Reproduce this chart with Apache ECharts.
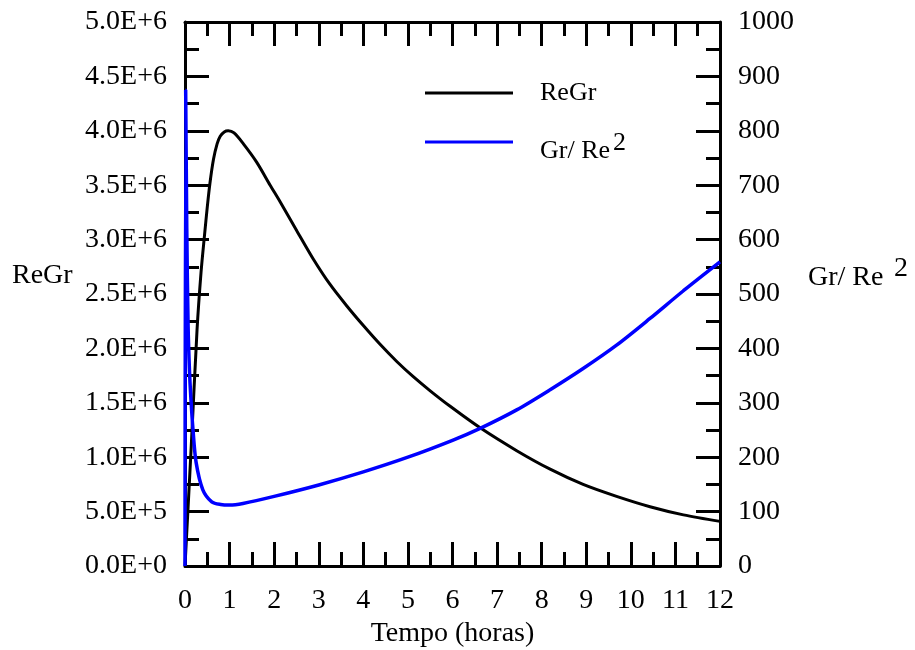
<!DOCTYPE html>
<html>
<head>
<meta charset="utf-8">
<script src="https://cdn.jsdelivr.net/npm/echarts@6/dist/echarts.min.js"></script>
<style>
html,body{margin:0;padding:0;background:#fff;}
#chart{width:915px;height:650px;}
</style>
</head>
<body>
<div id="chart"></div>
<script>
// Data
const reGrTime = [0, 0.14, 0.27, 0.36, 0.44, 0.5, 0.56, 0.64, 0.72, 0.79, 0.88, 0.97, 1.1, 1.31, 1.61, 1.91, 2.13, 2.51, 2.88, 3.25, 3.63, 4.0, 4.37, 4.75, 5.12, 5.5, 5.94, 6.62, 7.44, 8.19, 8.93, 9.68, 10.43, 11.18, 12];
const reGrValues = [0, 1.1e6, 2.17e6, 2.7e6, 3.05e6, 3.3e6, 3.52e6, 3.74e6, 3.88e6, 3.95e6, 3.99e6, 4.0e6, 3.98e6, 3.88e6, 3.71e6, 3.5e6, 3.35e6, 3.08e6, 2.82e6, 2.59e6, 2.39e6, 2.21e6, 2.04e6, 1.88e6, 1.74e6, 1.61e6, 1.47e6, 1.27e6, 1.06e6, 0.89e6, 0.75e6, 0.64e6, 0.545e6, 0.47e6, 0.41e6];
const grReTime = [0, 0.015, 0.04, 0.07, 0.1, 0.13, 0.18, 0.25, 0.4, 0.6, 0.8, 1.0, 1.3, 2, 3, 4, 5, 6, 6.62, 7.44, 8.19, 8.93, 9.68, 10.43, 11.18, 12];
const grReValues = [0, 875, 620, 440, 360, 311, 250, 190, 140, 118, 113, 112, 115, 128, 149, 173, 200, 231, 253, 287, 324, 363, 406, 455, 506, 559];
const xTickLabels = ['0','1','2','3','4','5','6','7','8','9','10','11','12'];
const leftTickLabels = ['0.0E+0','5.0E+5','1.0E+6','1.5E+6','2.0E+6','2.5E+6','3.0E+6','3.5E+6','4.0E+6','4.5E+6','5.0E+6'];
const rightTickLabels = ['0','100','200','300','400','500','600','700','800','900','1000'];
const seriesNames = ['ReGr', 'Gr/ Re2'];

const FONT = '"Liberation Serif", "Times New Roman", serif';
const pair = (xs, ys) => xs.map((x, i) => [x, ys[i]]);

const axisLine = {show: true, onZero: false, lineStyle: {color: '#000', width: 3}};
const axisTick = {show: true, inside: true, length: 24, lineStyle: {color: '#000', width: 3}};
const minorTick = {show: true, splitNumber: 2, length: 14, lineStyle: {color: '#000', width: 3}};
const labelStyle = {color: '#000', fontFamily: FONT, fontSize: 28};

const chart = echarts.init(document.getElementById('chart'), null, {renderer: 'canvas'});
chart.setOption({
  backgroundColor: '#fff',
  animation: false,
  grid: {left: 185, right: 195, top: 22, bottom: 84, containLabel: false, outerBoundsMode: 'none'},
  legend: {
    orient: 'vertical', left: 425, top: 80, itemGap: 14,
    icon: 'rect', itemWidth: 88, itemHeight: 3, padding: 0,
    data: seriesNames,
    textStyle: {
      color: '#000', fontFamily: FONT, fontSize: 26, padding: [0, 0, 0, 22],
      rich: {
        n: {fontFamily: FONT, fontSize: 26, color: '#000', lineHeight: 26, padding: [18, 0, 0, 0]},
        s: {fontFamily: FONT, fontSize: 26, color: '#000', lineHeight: 26, padding: [3, 0, 0, 3]}
      }
    },
    formatter: function (name) {
      if (name === seriesNames[1]) return '{n|Gr/ Re}{s|2}';
      return name;
    }
  },
  xAxis: [
    {type: 'value', position: 'bottom', min: 0, max: 12, interval: 1,
     axisLine: axisLine, axisTick: axisTick, minorTick: minorTick, splitLine: {show: false},
     axisLabel: Object.assign({margin: 21, formatter: v => xTickLabels[Math.round(v)]}, labelStyle),
     name: 'Tempo (horas)', nameLocation: 'middle', nameGap: 52,
     nameTextStyle: {color: '#000', fontFamily: FONT, fontSize: 28}},
    {type: 'value', position: 'top', min: 0, max: 12, interval: 1,
     axisLine: axisLine, axisTick: axisTick, minorTick: minorTick, splitLine: {show: false},
     axisLabel: {show: false}}
  ],
  yAxis: [
    {type: 'value', position: 'left', min: 0, max: 5e6, interval: 5e5,
     axisLine: axisLine, axisTick: axisTick, minorTick: minorTick, splitLine: {show: false},
     axisLabel: Object.assign({margin: 18, formatter: v => leftTickLabels[Math.round(v / 5e5)]}, labelStyle)},
    {type: 'value', position: 'right', min: 0, max: 1000, interval: 100,
     axisLine: axisLine, axisTick: axisTick, minorTick: minorTick, splitLine: {show: false},
     axisLabel: Object.assign({margin: 18, formatter: v => rightTickLabels[Math.round(v / 100)]}, labelStyle)}
  ],
  graphic: [
    {type: 'text', left: 12, top: 262, style: {text: 'ReGr', fill: '#000', font: '28px ' + FONT}},
    {type: 'text', left: 808, top: 264, style: {text: 'Gr/ Re', fill: '#000', font: '28px ' + FONT}},
    {type: 'text', left: 894, top: 255, style: {text: '2', fill: '#000', font: '28px ' + FONT}}
  ],
  series: [
    {name: seriesNames[0], type: 'line', xAxisIndex: 0, yAxisIndex: 0, data: pair(reGrTime, reGrValues),
     showSymbol: false, smooth: 0.3, lineStyle: {color: '#000', width: 3}, itemStyle: {color: '#000'}, z: 3},
    {name: seriesNames[1], type: 'line', xAxisIndex: 0, yAxisIndex: 1, data: pair(grReTime, grReValues),
     showSymbol: false, smooth: 0.3, lineStyle: {color: '#0000ff', width: 3.5}, itemStyle: {color: '#0000ff'}, z: 4}
  ]
});
</script>
</body>
</html>
